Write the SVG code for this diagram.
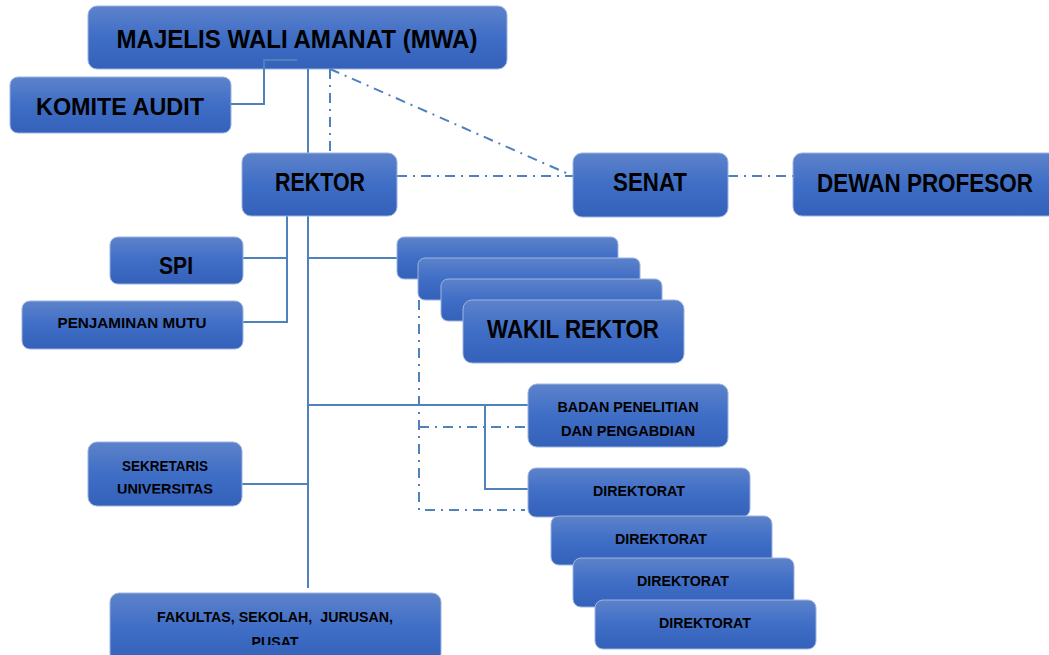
<svg xmlns="http://www.w3.org/2000/svg" width="1049" height="655" viewBox="0 0 1049 655">
<defs>
<linearGradient id="g" x1="0" y1="0" x2="0" y2="1">
<stop offset="0" stop-color="#5d82ca"/>
<stop offset="0.5" stop-color="#3f6ec6"/>
<stop offset="1" stop-color="#3461b9"/>
</linearGradient>
<clipPath id="cSek"><rect x="88" y="442" width="154" height="51.5"/></clipPath>
<clipPath id="cFak"><rect x="110" y="593" width="331" height="52"/></clipPath>
</defs>
<style>
.box{fill:url(#g);stroke:#9db4e0;stroke-width:1}
.t{font-family:"Liberation Sans",Arial,sans-serif;font-weight:bold;fill:#000;text-anchor:middle}
.l{fill:none;stroke:#4f81bd;stroke-width:2}
.d{fill:none;stroke:#4f81bd;stroke-width:2;stroke-dasharray:10 6 2 6}
</style>
<rect width="1049" height="655" fill="#fff"/>

<g id="n-mwa"><rect class="box" x="88" y="6" width="419" height="63" rx="9"/>
<text class="t" x="297" y="48" font-size="25" textLength="361" lengthAdjust="spacingAndGlyphs">MAJELIS WALI AMANAT (MWA)</text></g>

<g id="n-komite"><rect class="box" x="10" y="77" width="221" height="56" rx="8"/>
<text class="t" x="120" y="115" font-size="24" textLength="168" lengthAdjust="spacingAndGlyphs">KOMITE AUDIT</text></g>

<g id="connectors">
<path class="l" d="M297,60 H264 V104 H231" stroke="#6f97cf"/>
<path class="l" d="M308,69 V588"/>
<path class="d" d="M330,69 V153"/>
<path class="d" d="M330,69 L573,176"/>
<path class="d" d="M397,176 H573"/>
<path class="d" d="M728,176 H793"/>
<path class="l" d="M287,216 V322 H243 M287,258 H243"/>
<path class="l" d="M308,258 H397"/>
<path class="l" d="M308,405 H528 M485,405 V489 H528"/>
<path class="l" d="M242,484 H308"/>
<path class="d" d="M419,300 V510 H525 M419,427 H525"/>
</g>

<g id="n-rektor"><rect class="box" x="242" y="153" width="155" height="63" rx="9"/>
<text class="t" x="320" y="191" font-size="25" textLength="90" lengthAdjust="spacingAndGlyphs">REKTOR</text></g>

<g id="n-senat"><rect class="box" x="573" y="153" width="155" height="64" rx="9"/>
<text class="t" x="650" y="191" font-size="25" textLength="74" lengthAdjust="spacingAndGlyphs">SENAT</text></g>

<g id="n-dewan"><rect class="box" x="793" y="153" width="270" height="63" rx="9"/>
<text class="t" x="925" y="192" font-size="25" textLength="216" lengthAdjust="spacingAndGlyphs">DEWAN PROFESOR</text></g>

<g id="n-spi"><rect class="box" x="110" y="237" width="133" height="47" rx="8"/>
<text class="t" x="176" y="274" font-size="23" textLength="34" lengthAdjust="spacingAndGlyphs">SPI</text></g>

<g id="n-pm"><rect class="box" x="22" y="301" width="221" height="48" rx="8"/>
<text class="t" x="132" y="328" font-size="14" textLength="149" lengthAdjust="spacingAndGlyphs">PENJAMINAN MUTU</text></g>

<g id="n-wakil">
<rect class="box" x="397" y="237" width="221" height="42" rx="7"/>
<rect class="box" x="418" y="258" width="222" height="42" rx="7"/>
<rect class="box" x="441" y="279" width="221" height="42" rx="7"/>
<rect class="box" x="463" y="300" width="221" height="63" rx="9"/>
<text class="t" x="573" y="338" font-size="25" textLength="172" lengthAdjust="spacingAndGlyphs">WAKIL REKTOR</text>
</g>

<g id="n-badan"><rect class="box" x="528" y="384" width="200" height="63" rx="9"/>
<text class="t" x="628" y="412" font-size="14" textLength="141" lengthAdjust="spacingAndGlyphs">BADAN PENELITIAN</text>
<text class="t" x="628" y="436" font-size="14" textLength="134" lengthAdjust="spacingAndGlyphs">DAN PENGABDIAN</text></g>

<g id="n-dir1"><rect class="box" x="528" y="468" width="222" height="49" rx="8"/>
<text class="t" x="639" y="496" font-size="14" textLength="92" lengthAdjust="spacingAndGlyphs">DIREKTORAT</text></g>
<g id="n-dir2"><rect class="box" x="551" y="516" width="221" height="49" rx="8"/>
<text class="t" x="661" y="544" font-size="14" textLength="92" lengthAdjust="spacingAndGlyphs">DIREKTORAT</text></g>
<g id="n-dir3"><rect class="box" x="573" y="558" width="221" height="49" rx="8"/>
<text class="t" x="683" y="586" font-size="14" textLength="92" lengthAdjust="spacingAndGlyphs">DIREKTORAT</text></g>
<g id="n-dir4"><rect class="box" x="595" y="600" width="221" height="49" rx="8"/>
<text class="t" x="705" y="628" font-size="14" textLength="92" lengthAdjust="spacingAndGlyphs">DIREKTORAT</text></g>

<g id="n-sekretaris"><rect class="box" x="88" y="442" width="154" height="64" rx="9"/>
<g clip-path="url(#cSek)">
<text class="t" x="165" y="471" font-size="14" textLength="86" lengthAdjust="spacingAndGlyphs">SEKRETARIS</text>
<text class="t" x="165" y="494" font-size="14" textLength="96" lengthAdjust="spacingAndGlyphs">UNIVERSITAS</text></g></g>

<g id="n-fakultas"><rect class="box" x="110" y="593" width="331" height="70" rx="9"/>
<g clip-path="url(#cFak)">
<text class="t" x="275" y="622" font-size="14" textLength="236" lengthAdjust="spacingAndGlyphs" xml:space="preserve">FAKULTAS, SEKOLAH,  JURUSAN,</text>
<text class="t" x="275" y="647" font-size="14" textLength="47" lengthAdjust="spacingAndGlyphs">PUSAT</text></g></g>
</svg>
